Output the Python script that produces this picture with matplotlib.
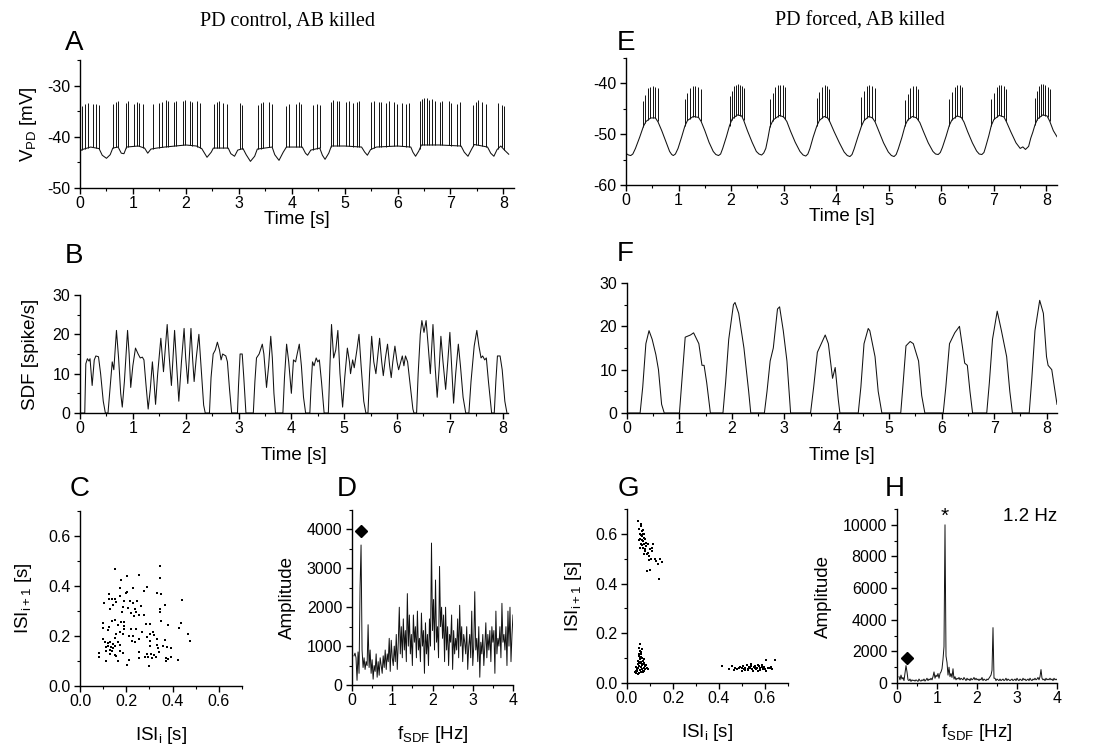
import numpy as np
import matplotlib
matplotlib.use("Agg")
import matplotlib.pyplot as plt
from matplotlib.ticker import MultipleLocator, FormatStrFormatter

plt.rcParams['font.family'] = ['Liberation Sans', 'DejaVu Sans']
plt.rcParams['mathtext.fontset'] = 'custom'
plt.rcParams['mathtext.rm'] = 'Liberation Sans'
plt.rcParams['mathtext.it'] = 'Liberation Sans'
plt.rcParams['axes.unicode_minus'] = False

# ---------------- DATA ----------------
# Panel A: slow wave knots (time s, mV), spikes (time, peak mV)
A_base = [(0.00, -42.8), (0.04, -42.5), (0.20, -42.0), (0.36, -42.3), (0.42, -43.6), (0.50, -44.2),
          (0.57, -43.5), (0.62, -42.2), (0.72, -42.0), (0.78, -43.2), (0.83, -43.3), (0.88, -42.0),
          (1.10, -41.8), (1.22, -42.2), (1.28, -43.2), (1.34, -42.4), (1.45, -42.2), (1.60, -42.0),
          (1.80, -41.8), (2.00, -41.6), (2.20, -41.8), (2.30, -42.3), (2.40, -44.0), (2.48, -43.0),
          (2.52, -42.2), (2.80, -42.2), (2.85, -43.3), (2.92, -43.8), (2.98, -42.6), (3.08, -42.3),
          (3.14, -43.5), (3.22, -44.8), (3.30, -43.8), (3.35, -42.4), (3.63, -42.0), (3.68, -43.5),
          (3.76, -44.6), (3.84, -43.0), (3.90, -42.0), (4.20, -42.0), (4.26, -43.2), (4.30, -43.6),
          (4.36, -42.6), (4.53, -42.2), (4.58, -43.6), (4.63, -44.4), (4.70, -43.2), (4.75, -41.8),
          (5.00, -41.8), (5.32, -42.0), (5.38, -43.0), (5.43, -43.6), (5.49, -42.5), (5.60, -42.0),
          (6.00, -41.8), (6.25, -42.0), (6.29, -43.0), (6.34, -43.8), (6.40, -42.8), (6.45, -41.6),
          (6.80, -41.6), (7.20, -41.8), (7.26, -43.0), (7.33, -43.8), (7.40, -42.4), (7.45, -41.5),
          (7.70, -42.0), (7.76, -43.2), (7.82, -43.8), (7.88, -42.5), (7.95, -41.8), (8.02, -42.6),
          (8.10, -43.4)]
A_spikes = [(0.04, -34.0), (0.10, -33.6), (0.16, -33.4), (0.24, -33.6), (0.31, -33.5), (0.36, -33.8),
            (0.62, -33.5), (0.68, -33.2), (0.71, -33.0), (0.87, -33.4), (0.91, -33.0), (1.02, -33.5),
            (1.07, -33.3), (1.12, -33.4), (1.19, -33.6),
            (1.37, -33.6), (1.50, -33.4), (1.55, -33.2), (1.63, -32.8), (1.67, -33.0), (1.77, -33.2),
            (1.81, -33.0), (1.95, -33.0), (1.99, -32.9), (2.08, -33.0), (2.12, -33.2), (2.22, -33.0),
            (2.26, -33.4),
            (2.53, -33.6), (2.58, -33.3), (2.62, -33.1), (2.70, -33.4), (2.78, -33.6),
            (3.03, -33.4), (3.07, -33.7),
            (3.36, -33.8), (3.42, -33.4), (3.46, -33.2), (3.58, -33.3), (3.62, -33.5),
            (3.90, -33.9), (3.95, -33.6), (4.08, -33.6), (4.13, -33.3), (4.18, -33.5),
            (4.40, -33.7), (4.47, -33.6), (4.53, -33.8),
            (4.74, -33.2), (4.78, -32.9), (4.86, -33.1), (4.90, -33.0), (5.03, -33.3), (5.08, -33.1),
            (5.16, -33.4), (5.23, -33.2), (5.28, -33.0),
            (5.50, -33.3), (5.55, -33.1), (5.64, -33.3), (5.69, -33.2), (5.79, -33.4), (5.84, -33.1),
            (5.93, -33.3), (5.98, -33.5), (6.08, -33.4), (6.15, -33.6), (6.22, -33.4),
            (6.42, -33.0), (6.46, -32.6), (6.50, -32.4), (6.55, -32.5), (6.59, -32.8), (6.66, -32.7),
            (6.70, -33.0), (6.80, -33.2), (6.84, -33.0), (6.97, -33.1), (7.01, -33.4), (7.13, -33.5),
            (7.18, -33.3),
            (7.43, -33.8), (7.48, -33.2), (7.52, -32.8), (7.59, -33.2), (7.67, -33.6),
            (7.90, -33.4), (7.97, -33.7), (8.02, -33.9)]

# Panel B: spike density function knots (time s, spike/s)
B_sdf = [(0.00, 0), (0.09, 0), (0.11, 12.5), (0.14, 13.8), (0.17, 13.2), (0.19, 13.8), (0.23, 7), (0.27, 13.5),
         (0.30, 14.5), (0.35, 14.3), (0.39, 10), (0.44, 3), (0.48, 0),
         (0.53, 0), (0.58, 8), (0.61, 13), (0.64, 11), (0.69, 21), (0.73, 14), (0.77, 5), (0.80, 1.5), (0.84, 8),
         (0.90, 21), (0.93, 15), (0.96, 6.5), (1.00, 12), (1.05, 16.5), (1.10, 15), (1.14, 14), (1.18, 14.2),
         (1.21, 13.5), (1.25, 7), (1.29, 1), (1.33, 6), (1.37, 13), (1.40, 8), (1.43, 2.2), (1.47, 10),
         (1.53, 19), (1.58, 10.5), (1.65, 22.5), (1.69, 14), (1.73, 7), (1.79, 21), (1.83, 12), (1.87, 3),
         (1.92, 13), (1.97, 21.5), (2.00, 14), (2.04, 7.5), (2.10, 21.5), (2.13, 14), (2.16, 8), (2.20, 14),
         (2.25, 20), (2.30, 10), (2.34, 2), (2.37, 0),
         (2.45, 0), (2.48, 9), (2.52, 15), (2.56, 16), (2.60, 18), (2.64, 16), (2.67, 13.5), (2.70, 15),
         (2.76, 14.5), (2.79, 13), (2.83, 6), (2.87, 0),
         (2.98, 0), (3.00, 7), (3.03, 15), (3.07, 15), (3.10, 9), (3.14, 0),
         (3.28, 0), (3.31, 8), (3.34, 14), (3.39, 15), (3.45, 17.5), (3.48, 15), (3.53, 6.5), (3.57, 12),
         (3.61, 19.5), (3.64, 14), (3.67, 5), (3.70, 0),
         (3.84, 0), (3.87, 9), (3.91, 17.5), (3.95, 13), (4.00, 5), (4.04, 13.5), (4.08, 13), (4.11, 15),
         (4.15, 17.5), (4.19, 12), (4.23, 4), (4.27, 0),
         (4.35, 0), (4.37, 6), (4.40, 13), (4.43, 12), (4.47, 14), (4.50, 13), (4.53, 13.5), (4.57, 8), (4.62, 0),
         (4.70, 0), (4.73, 12), (4.76, 22.5), (4.80, 14), (4.84, 16), (4.88, 21), (4.92, 10), (4.97, 1.5),
         (5.01, 9), (5.06, 16.5), (5.10, 13), (5.12, 10), (5.16, 13.5), (5.19, 11.5), (5.24, 16), (5.28, 20),
         (5.32, 12), (5.37, 3), (5.41, 0),
         (5.45, 0), (5.48, 10), (5.52, 19.5), (5.56, 13), (5.60, 10), (5.67, 19), (5.71, 13), (5.74, 9.5),
         (5.78, 14), (5.82, 17.5), (5.86, 12), (5.89, 9), (5.92, 13), (5.96, 17), (6.00, 13), (6.03, 11),
         (6.07, 13), (6.10, 14.5), (6.13, 12), (6.16, 14.5), (6.20, 13), (6.25, 7), (6.30, 1), (6.32, 0),
         (6.37, 0), (6.40, 10), (6.44, 20), (6.47, 23.5), (6.51, 20.5), (6.55, 23.5), (6.59, 17), (6.63, 10),
         (6.68, 22.5), (6.72, 12), (6.76, 4), (6.80, 12), (6.83, 19.5), (6.87, 13), (6.92, 6), (6.96, 13),
         (7.00, 20.5), (7.04, 10), (7.07, 2.5), (7.11, 10), (7.16, 17.5), (7.20, 12), (7.25, 4), (7.30, 0),
         (7.36, 0), (7.40, 8), (7.46, 17), (7.51, 21), (7.55, 17), (7.59, 14), (7.62, 14.5), (7.66, 13.5),
         (7.69, 14), (7.73, 8), (7.79, 0),
         (7.84, 0), (7.87, 8), (7.90, 14.5), (7.95, 14.5), (7.99, 11), (8.04, 3), (8.08, 0)]

# Panel C: return map ISI_i vs ISI_i+1 (s)
C_pts = [(0.153, 0.469), (0.344, 0.479), (0.257, 0.443), (0.204, 0.439), (0.176, 0.426), (0.344, 0.432),
         (0.288, 0.396), (0.173, 0.394), (0.231, 0.392), (0.204, 0.378), (0.197, 0.373), (0.277, 0.382),
         (0.331, 0.373), (0.349, 0.370), (0.127, 0.369), (0.440, 0.346), (0.127, 0.349), (0.137, 0.349),
         (0.151, 0.349), (0.173, 0.360), (0.191, 0.342), (0.217, 0.339), (0.231, 0.333), (0.248, 0.339),
         (0.104, 0.332), (0.144, 0.325), (0.157, 0.336), (0.264, 0.320), (0.368, 0.325), (0.184, 0.316),
         (0.208, 0.312), (0.129, 0.309), (0.237, 0.309), (0.347, 0.309), (0.244, 0.298), (0.220, 0.291),
         (0.181, 0.295), (0.257, 0.286), (0.275, 0.286), (0.235, 0.279), (0.347, 0.295), (0.351, 0.262),
         (0.151, 0.266), (0.177, 0.258), (0.188, 0.258), (0.101, 0.253), (0.140, 0.259), (0.284, 0.249),
         (0.304, 0.250), (0.379, 0.245), (0.437, 0.251), (0.124, 0.235), (0.164, 0.245), (0.191, 0.242),
         (0.100, 0.231), (0.120, 0.226), (0.221, 0.229), (0.244, 0.229), (0.188, 0.229), (0.428, 0.231),
         (0.173, 0.218), (0.267, 0.218), (0.315, 0.218), (0.157, 0.209), (0.184, 0.209), (0.304, 0.209),
         (0.320, 0.205), (0.467, 0.210), (0.211, 0.199), (0.231, 0.199), (0.291, 0.198), (0.331, 0.189),
         (0.477, 0.179), (0.368, 0.184), (0.101, 0.189), (0.151, 0.191), (0.224, 0.182), (0.237, 0.178),
         (0.253, 0.189), (0.304, 0.182), (0.107, 0.175), (0.120, 0.172), (0.131, 0.178), (0.141, 0.168),
         (0.164, 0.178), (0.171, 0.164), (0.121, 0.159), (0.133, 0.155), (0.144, 0.151), (0.153, 0.162),
         (0.111, 0.155), (0.128, 0.146), (0.113, 0.142), (0.140, 0.142), (0.301, 0.162), (0.331, 0.164),
         (0.337, 0.151), (0.360, 0.159), (0.377, 0.155), (0.395, 0.151), (0.341, 0.135), (0.257, 0.135),
         (0.173, 0.139), (0.184, 0.131), (0.151, 0.124), (0.157, 0.119), (0.084, 0.131), (0.084, 0.115),
         (0.128, 0.128), (0.291, 0.128), (0.308, 0.128), (0.321, 0.126), (0.328, 0.115), (0.311, 0.114),
         (0.280, 0.115), (0.293, 0.115), (0.253, 0.112), (0.373, 0.112), (0.395, 0.118), (0.424, 0.106),
         (0.211, 0.106), (0.164, 0.102), (0.111, 0.099), (0.204, 0.084), (0.297, 0.082), (0.371, 0.099),
         (0.381, 0.108)]

# Panels D and H: amplitude spectra of the SDF (frequency grid 0.05..4.0 Hz, step 0.025)
D_amp = [750, 820, 700, 120, 850, 300, 2500, 3600,
         900, 450, 700, 400, 600, 500, 1550, 450,
         900, 300, 650, 150, 500, 350, 800, 200,
         600, 250, 700, 500, 300, 750, 450, 900,
         400, 800, 600, 1200, 350, 1150, 700, 500,
         1000, 600, 1300, 400, 1100, 2000, 800, 1500,
         700, 1700, 900, 1400, 600, 2350, 1000, 1800,
         800, 1300, 500, 1800, 1100, 1500, 700, 1900,
         900, 1200, 600, 1850, 1000, 1400, 300, 1600,
         800, 1300, 500, 1700, 1000, 3650, 1400, 2200,
         900, 2700, 1100, 1500, 700, 3050, 1500, 2000,
         1200, 1800, 600, 2000, 900, 1500, 500, 1300,
         1100, 1800, 400, 1400, 800, 1200, 900, 1700,
         700, 2050, 1000, 1500, 600, 1300, 1100, 800,
         1500, 400, 1000, 1300, 700, 1900, 500, 1000,
         2400, 900, 1200, 600, 1500, 200, 1100, 800,
         1300, 500, 1000, 1600, 700, 1300, 900, 1400,
         600, 1500, 1100, 1400, 300, 1900, 800, 1200,
         1000, 1500, 700, 2100, 1100, 1300, 900, 1500,
         500, 1900, 1000, 2000, 600, 1300, 1800]
H_amp = [400, 200, 500, 250, 350, 150, 600, 1100,
         700, 200, 150, 250, 100, 200, 150, 180,
         120, 200, 150, 100, 250, 150, 120, 200,
         150, 250, 120, 200, 300, 150, 250, 200,
         300, 200, 400, 700, 300, 500, 400, 600,
         300, 600, 700, 900, 1500, 2300, 10000, 1700,
         1300, 500, 1000, 400, 600, 350, 900, 250,
         400, 200, 300, 250, 350, 200, 300, 250,
         200, 350, 250, 150, 300, 200, 250, 150,
         300, 200, 250, 350, 200, 300, 200, 250,
         150, 250, 200, 350, 150, 250, 200, 150,
         250, 200, 300, 400, 500, 800, 3500, 300,
         300, 150, 250, 200, 150, 250, 150, 200,
         250, 150, 200, 300, 150, 250, 200, 150,
         200, 250, 150, 200, 250, 150, 300, 200,
         150, 250, 200, 150, 300, 200, 250, 150,
         200, 250, 150, 300, 200, 150, 250, 200,
         300, 200, 250, 350, 200, 400, 850, 300,
         200, 250, 150, 300, 200, 250, 200, 300,
         200, 250, 150, 300, 200, 250, 200]
D_marker = (0.22, 3950)
H_marker = (0.25, 1600)
H_star = (1.2, 10550)

# Panel E: forced slow wave knots (time s, mV) and spikes (time, peak mV)
E_base = [(0.00, -53.8), (0.05, -54.1), (0.09, -54.2), (0.13, -53.9), (0.18, -52.8), (0.26, -50.6), (0.33, -48.5), (0.38, -47.5),
          (0.47, -46.8), (0.56, -46.8), (0.61, -47.6), (0.68, -49.3), (0.76, -51.5), (0.83, -53.4), (0.87, -54.0),
          (0.90, -54.2), (0.94, -53.9), (0.99, -52.8), (1.06, -50.5), (1.12, -48.4), (1.17, -47.3), (1.28, -46.5),
          (1.38, -46.7), (1.43, -47.5), (1.50, -49.3), (1.58, -51.6), (1.66, -53.4), (1.71, -54.0), (1.76, -54.2),
          (1.80, -53.9), (1.84, -52.8), (1.91, -50.5), (1.97, -48.3), (2.02, -47.0), (2.12, -46.2), (2.20, -46.4),
          (2.24, -47.3), (2.31, -49.3), (2.40, -51.6), (2.48, -53.4), (2.53, -53.9), (2.58, -54.1), (2.62, -53.7), (2.66, -52.8),
          (2.70, -50.8), (2.74, -48.5), (2.80, -47.2), (2.92, -46.3), (3.00, -46.6), (3.06, -47.5),
          (3.13, -49.4), (3.22, -51.6), (3.31, -53.4), (3.37, -54.1), (3.42, -54.3), (3.46, -53.9), (3.50, -52.8), (3.56, -50.6),
          (3.63, -48.4), (3.68, -47.3), (3.77, -46.5), (3.84, -46.8), (3.88, -47.6), (3.96, -49.5),
          (4.06, -51.7), (4.15, -53.5), (4.21, -54.2), (4.26, -54.4), (4.30, -54.0), (4.34, -52.9), (4.41, -50.6), (4.48, -48.4),
          (4.53, -47.3), (4.62, -46.5), (4.69, -46.8), (4.74, -47.6), (4.81, -49.4), (4.90, -51.7),
          (4.99, -53.5), (5.05, -54.2), (5.10, -54.4), (5.14, -54.0), (5.18, -52.9), (5.25, -50.6), (5.31, -48.3), (5.36, -47.2),
          (5.45, -46.5), (5.53, -46.8), (5.59, -47.7), (5.66, -49.5), (5.75, -51.7), (5.84, -53.4), (5.89, -53.9),
          (5.94, -54.0), (5.98, -53.6), (6.02, -52.6), (6.09, -50.4), (6.15, -48.3), (6.20, -47.2), (6.30, -46.4),
          (6.38, -46.7), (6.43, -47.6), (6.50, -49.5), (6.59, -51.7), (6.67, -53.3), (6.72, -53.9), (6.77, -54.0),
          (6.81, -53.6), (6.84, -52.6), (6.90, -50.4), (6.95, -48.3), (7.00, -47.1), (7.10, -46.3), (7.19, -46.6),
          (7.24, -47.6), (7.32, -49.5), (7.42, -51.7), (7.50, -52.8), (7.55, -52.5), (7.60, -53.0),
          (7.66, -52.4), (7.70, -50.8), (7.74, -49.6), (7.78, -48.2), (7.83, -47.0), (7.93, -46.2),
          (8.01, -46.4), (8.06, -47.4), (8.13, -49.3), (8.20, -50.5)]
E_spikes = [(0.33, -43.5), (0.37, -42.2), (0.41, -41.0), (0.46, -40.7), (0.51, -40.6), (0.55, -40.7), (0.60, -41.0),
            (1.12, -43.0), (1.17, -41.8), (1.22, -40.9), (1.27, -40.5), (1.32, -40.5), (1.37, -40.7), (1.42, -41.2),
            (1.97, -42.5), (2.01, -41.5), (2.05, -40.6), (2.09, -40.3), (2.13, -40.2), (2.17, -40.3), (2.21, -40.5),
            (2.24, -41.0),
            (2.74, -43.0), (2.79, -41.8), (2.84, -40.8), (2.89, -40.4), (2.93, -40.3), (2.98, -40.4), (3.03, -40.8),
            (3.63, -42.8), (3.68, -41.6), (3.73, -40.7), (3.78, -40.4), (3.83, -40.6), (3.87, -41.2),
            (4.48, -42.6), (4.53, -41.4), (4.58, -40.6), (4.63, -40.4), (4.68, -40.6), (4.73, -41.0),
            (5.31, -43.2), (5.36, -42.0), (5.41, -41.0), (5.46, -40.6), (5.51, -40.6), (5.56, -41.2),
            (6.15, -43.0), (6.20, -41.7), (6.25, -40.7), (6.30, -40.3), (6.35, -40.4), (6.40, -40.8),
            (6.95, -43.0), (7.00, -41.8), (7.05, -40.8), (7.10, -40.4), (7.14, -40.4), (7.19, -40.6), (7.23, -41.2),
            (7.78, -42.8), (7.82, -41.5), (7.86, -40.6), (7.90, -40.2), (7.94, -40.2), (7.98, -40.4), (8.02, -40.7),
            (8.06, -41.2)]

# Panel F: forced SDF knots
F_sdf = [(0.00, 0), (0.25, 0), (0.30, 6), (0.36, 16), (0.42, 19), (0.48, 17), (0.55, 13.5), (0.60, 10), (0.66, 2), (0.71, 0),
         (1.00, 0), (1.05, 8), (1.11, 17.5), (1.21, 18), (1.27, 18.5), (1.37, 16), (1.43, 11), (1.47, 11), (1.52, 7), (1.59, 0),
         (1.83, 0), (1.88, 7), (1.94, 17), (2.03, 25), (2.06, 25.5), (2.13, 23), (2.23, 15), (2.32, 5), (2.36, 0),
         (2.62, 0), (2.67, 5), (2.73, 12), (2.79, 15), (2.87, 24), (2.91, 24.5), (2.98, 19), (3.05, 12), (3.12, 0),
         (3.50, 0), (3.56, 6), (3.63, 14), (3.78, 18), (3.84, 16), (3.92, 8), (3.97, 10.5), (4.03, 3), (4.06, 0),
         (4.41, 0), (4.46, 6), (4.52, 16), (4.60, 19.5), (4.63, 19), (4.73, 13), (4.79, 5), (4.86, 0),
         (5.22, 0), (5.26, 6), (5.32, 15.5), (5.40, 16.5), (5.46, 16), (5.56, 12), (5.62, 4), (5.68, 0),
         (6.03, 0), (6.08, 6), (6.15, 16), (6.25, 18.5), (6.34, 20), (6.40, 15), (6.44, 11.5), (6.49, 11), (6.54, 5), (6.59, 0),
         (6.86, 0), (6.91, 7), (6.97, 17), (7.06, 23.5), (7.14, 19), (7.24, 13), (7.30, 5), (7.35, 0),
         (7.67, 0), (7.72, 8), (7.78, 19), (7.87, 26), (7.94, 23), (8.00, 13), (8.03, 11), (8.10, 10), (8.20, 2)]

# Panel G: return map of forced neuron
G_pts = [(0.035, 0.045), (0.040, 0.040), (0.042, 0.055), (0.045, 0.048), (0.048, 0.062), (0.050, 0.042),
         (0.052, 0.070), (0.055, 0.052), (0.058, 0.080), (0.060, 0.046), (0.062, 0.065), (0.065, 0.058),
         (0.068, 0.090), (0.070, 0.050), (0.072, 0.075), (0.075, 0.060), (0.078, 0.068), (0.080, 0.055),
         (0.085, 0.062), (0.090, 0.058), (0.038, 0.050), (0.044, 0.060), (0.047, 0.075), (0.053, 0.085),
         (0.057, 0.095), (0.061, 0.105), (0.066, 0.078), (0.071, 0.088), (0.076, 0.048), (0.082, 0.072),
         (0.041, 0.065), (0.049, 0.090), (0.054, 0.110), (0.059, 0.120), (0.064, 0.100), (0.069, 0.045),
         (0.074, 0.082), (0.079, 0.070), (0.046, 0.038), (0.056, 0.130), (0.063, 0.115), (0.067, 0.072),
         (0.073, 0.095), (0.050, 0.140), (0.055, 0.158), (0.060, 0.125), (0.062, 0.085), (0.058, 0.102),
         (0.052, 0.118), (0.065, 0.135),
         (0.048, 0.650), (0.052, 0.620), (0.055, 0.600), (0.057, 0.580), (0.060, 0.630), (0.062, 0.560),
         (0.064, 0.590), (0.066, 0.610), (0.068, 0.570), (0.070, 0.545), (0.072, 0.600), (0.075, 0.560),
         (0.078, 0.580), (0.080, 0.530), (0.083, 0.550), (0.086, 0.520), (0.090, 0.560), (0.095, 0.510),
         (0.100, 0.540), (0.105, 0.500), (0.110, 0.530), (0.115, 0.560), (0.120, 0.500), (0.128, 0.490),
         (0.135, 0.480), (0.142, 0.500), (0.154, 0.485), (0.139, 0.420), (0.087, 0.450), (0.099, 0.455),
         (0.058, 0.545), (0.061, 0.595), (0.065, 0.575), (0.069, 0.615), (0.073, 0.585), (0.077, 0.540),
         (0.082, 0.565), (0.092, 0.525), (0.097, 0.495), (0.108, 0.545), (0.062, 0.640), (0.067, 0.555),
         (0.071, 0.600), (0.054, 0.575), (0.076, 0.520),
         (0.415, 0.067), (0.445, 0.058), (0.455, 0.070), (0.470, 0.062), (0.480, 0.055), (0.490, 0.065),
         (0.500, 0.050), (0.505, 0.068), (0.510, 0.058), (0.515, 0.062), (0.520, 0.072), (0.525, 0.052),
         (0.530, 0.066), (0.535, 0.060), (0.540, 0.075), (0.545, 0.055), (0.550, 0.064), (0.555, 0.070),
         (0.560, 0.058), (0.565, 0.062), (0.570, 0.050), (0.575, 0.068), (0.580, 0.060), (0.585, 0.072),
         (0.590, 0.055), (0.595, 0.065), (0.600, 0.058), (0.606, 0.094), (0.612, 0.062), (0.620, 0.060),
         (0.630, 0.055), (0.643, 0.094), (0.498, 0.060), (0.512, 0.052), (0.528, 0.058), (0.538, 0.068),
         (0.548, 0.050), (0.558, 0.060), (0.568, 0.072), (0.578, 0.054), (0.588, 0.066), (0.603, 0.050),
         (0.485, 0.060), (0.625, 0.065), (0.465, 0.052)]

titles = ["PD control, AB killed", "PD forced, AB killed"]
letters = ["A", "B", "C", "D", "E", "F", "G", "H"]

# ---------------- FIGURE ----------------
W, H = 1105, 748
fig = plt.figure(figsize=(W / 100, H / 100), dpi=100)


def box(l, t, r, b):
    return [l / W, 1 - b / H, (r - l) / W, (b - t) / H]


def style(ax, xlim, ylim, xmaj, xmin, ymaj, ymin, fmt=None):
    ax.set_xlim(*xlim)
    ax.set_ylim(*ylim)
    for s in ('top', 'right'):
        ax.spines[s].set_visible(False)
    for s in ('left', 'bottom'):
        ax.spines[s].set_linewidth(1.0)
    ax.xaxis.set_major_locator(MultipleLocator(xmaj))
    ax.xaxis.set_minor_locator(MultipleLocator(xmin))
    ax.yaxis.set_major_locator(MultipleLocator(ymaj))
    ax.yaxis.set_minor_locator(MultipleLocator(ymin))
    if fmt:
        ax.xaxis.set_major_formatter(FormatStrFormatter(fmt))
        ax.yaxis.set_major_formatter(FormatStrFormatter(fmt))
    ax.tick_params(which='major', direction='out', length=4, width=1.0, labelsize=11.5)
    ax.tick_params(which='minor', direction='out', length=2, width=0.8)
    ax.tick_params(axis='x', pad=1.5)
    ax.tick_params(axis='y', pad=3)


LAB = 13.5
LW = 0.75
COL = '#111111'

def voltage_panel(ax, base, spikes):
    bt = np.array([p[0] for p in base])
    bv = np.array([p[1] for p in base])
    st = np.array([p[0] for p in spikes])
    sp = np.array([p[1] for p in spikes])
    ax.plot(bt, bv, color=COL, lw=LW)
    foot = np.interp(st, bt, bv)
    ax.vlines(st, foot, sp, color=COL, lw=0.7)


# A
axA = fig.add_axes(box(80, 60, 514, 188))
voltage_panel(axA, A_base, A_spikes)
style(axA, (0, 8.2), (-50, -25), 1, 0.5, 10, 5)
axA.set_xlabel("Time [s]", fontsize=LAB, labelpad=0)
axA.set_ylabel(r"V$_{\mathrm{PD}}$ [mV]", fontsize=LAB, labelpad=6)

# E
axE = fig.add_axes(box(626, 58, 1057, 185))
voltage_panel(axE, E_base, E_spikes)
style(axE, (0, 8.2), (-60, -35), 1, 0.5, 10, 5)
axE.set_xlabel("Time [s]", fontsize=LAB, labelpad=0)

# B
axB = fig.add_axes(box(80, 295, 508, 413))
axB.plot([p[0] for p in B_sdf], [p[1] for p in B_sdf], color=COL, lw=LW)
style(axB, (0, 8.1), (0, 30), 1, 0.5, 10, 5)
axB.set_xlabel("Time [s]", fontsize=LAB, labelpad=8)
axB.set_ylabel("SDF [spike/s]", fontsize=LAB, labelpad=10)

# F
axF = fig.add_axes(box(627, 283, 1057, 413))
axF.plot([p[0] for p in F_sdf], [p[1] for p in F_sdf], color=COL, lw=LW)
style(axF, (0, 8.2), (0, 30), 1, 0.5, 10, 5)
axF.set_xlabel("Time [s]", fontsize=LAB, labelpad=8)

# C
axC = fig.add_axes(box(80, 511, 242, 686))
axC.plot([p[0] for p in C_pts], [p[1] for p in C_pts], 's', color='k', ms=2.0, mew=0)
style(axC, (0, 0.7), (0, 0.7), 0.2, 0.1, 0.2, 0.1, fmt='%.1f')
axC.set_xlabel(r"ISI$_{\mathrm{i}}$ [s]", fontsize=LAB, labelpad=12)
axC.set_ylabel(r"ISI$_{\mathrm{i+1}}$ [s]", fontsize=LAB, labelpad=10)

# D
freq = np.linspace(0.05, 4.0, len(D_amp))
axD = fig.add_axes(box(352, 510, 513, 685))
axD.plot(freq, D_amp, color=COL, lw=0.7)
axD.plot(*D_marker, 'D', color='k', ms=6.5)
style(axD, (0, 4), (0, 4500), 1, 0.5, 1000, 500)
axD.set_xlabel(r"f$_{\mathrm{SDF}}$ [Hz]", fontsize=LAB, labelpad=12)
axD.set_ylabel("Amplitude", fontsize=LAB, labelpad=8)

# G
axG = fig.add_axes(box(627, 509, 788, 683))
axG.plot([p[0] for p in G_pts], [p[1] for p in G_pts], 's', color='k', ms=2.0, mew=0)
style(axG, (0, 0.7), (0, 0.7), 0.2, 0.1, 0.2, 0.1, fmt='%.1f')
axG.set_xlabel(r"ISI$_{\mathrm{i}}$ [s]", fontsize=LAB, labelpad=12)
axG.set_ylabel(r"ISI$_{\mathrm{i+1}}$ [s]", fontsize=LAB, labelpad=8)

# H
freqH = np.linspace(0.05, 4.0, len(H_amp))
axH = fig.add_axes(box(897, 509, 1057, 683))
axH.plot(freqH, H_amp, color=COL, lw=0.7)
axH.plot(*H_marker, 'D', color='k', ms=6.5)
axH.text(H_star[0], H_star[1], "*", ha='center', va='center', fontsize=15)
axH.text(4.0, 10500, "1.2 Hz", ha='right', va='center', fontsize=13.5)
style(axH, (0, 4), (0, 11000), 1, 0.5, 2000, 1000)
axH.set_xlabel(r"f$_{\mathrm{SDF}}$ [Hz]", fontsize=LAB, labelpad=12)
axH.set_ylabel("Amplitude", fontsize=LAB, labelpad=8)

# titles and panel letters
fig.text(288 / W, 1 - 21 / H, titles[0], ha='center', va='center', fontsize=14.5, family='Liberation Serif')
fig.text(860 / W, 1 - 21 / H, titles[1], ha='center', va='center', fontsize=14.5, family='Liberation Serif')
letter_pos = [(65, 50), (65, 263), (70, 496), (337, 496), (617, 50), (617, 261), (618, 496), (885, 496)]
for L, (x, y) in zip(letters, letter_pos):
    fig.text(x / W, 1 - y / H, L, ha='left', va='baseline', fontsize=20)

fig.savefig("out.png", dpi=100)
